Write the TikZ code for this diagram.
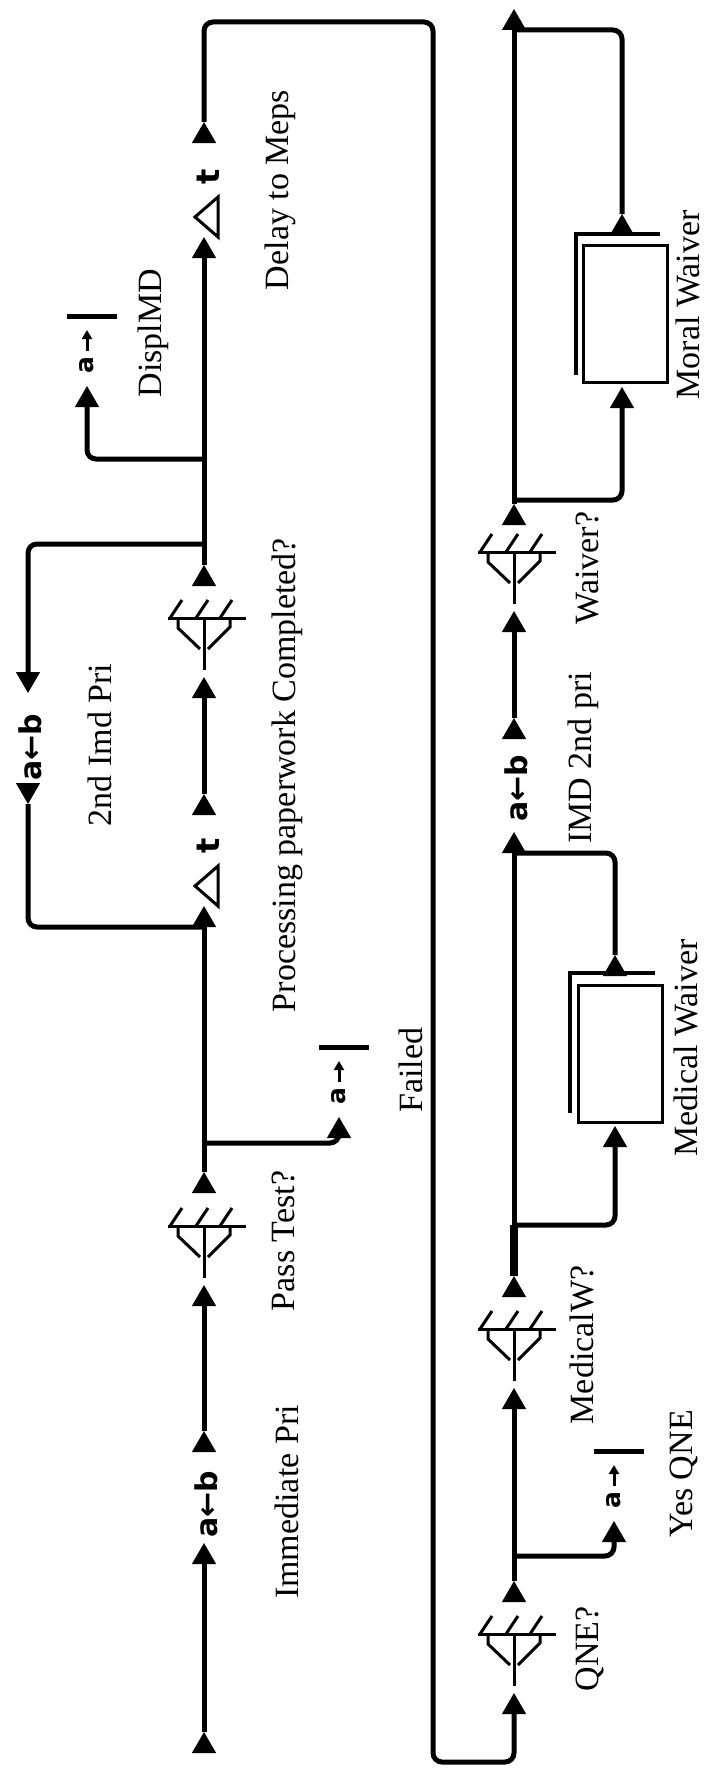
\documentclass[tikz,border=0pt]{standalone}
\usepackage{fontspec}
\setmainfont{Liberation Serif}
\newfontfamily\iconfont{DejaVu Sans}
\usetikzlibrary{shapes.geometric,arrows.meta}
\tikzset{
 flow/.style={line width=5pt, rounded corners=9pt},
 heavy/.style={line width=8pt},
 tri/.style={regular polygon, regular polygon sides=3, fill=black, inner sep=0pt, outer sep=0pt, minimum size=28pt},
 tridn/.style={tri, shape border rotate=180},
 lbl/.style={rotate=90, font=\fontsize{34}{40}\selectfont, inner sep=0pt},
 abicon/.style={rotate=90, font=\iconfont\bfseries\fontsize{30}{30}\selectfont, inner sep=0pt},
 sinka/.style={rotate=90, font=\iconfont\bfseries\fontsize{25}{25}\selectfont, inner sep=0pt},
 tletter/.style={rotate=90, font=\iconfont\bfseries\fontsize{32}{32}\selectfont, inner sep=0pt},
 icon/.style={line width=3pt},
 wbox/.style={draw, line width=3pt, minimum width=84pt, minimum height=137pt, inner sep=0pt},
 shadow/.style={line width=4pt},
 sinkbar/.style={line width=5pt},
 sinkarrow/.style={line width=3pt, -{Triangle[length=9pt,width=10pt]}},
 decision/.pic={
   \draw[icon] (-36,0) -- (42,0);
   \draw[icon] (-26,0) -- (-26,10) -- (-4,31);
   \draw[icon] (26,0) -- (26,9) -- (4,31);
   \draw[icon] (0,0) -- (0,52);
   \foreach \d in {-34,-8,16} \draw[icon] (\d,0) -- ++(12,-18);
 },
 deltat/.pic={
   \draw[icon, line join=miter] (12,-40) -- (-11,-20) -- (12,0) -- cycle;
   \node[tletter] (-t) at (2,-60) {t};
 },
 sink/.pic={
   \node[sinka] (-a) at (0,-21) {a};
   \draw[sinkarrow] (0,-35) -- (0,-56);
   \draw[sinkbar] (-20,-70) -- (30,-70);
 }
}
\begin{document}
\begin{tikzpicture}[x=1pt,y=-1pt]
\fill[white] (0,0) rectangle (708,1774);
\useasboundingbox (0,0) rectangle (708,1774);

% ---------- upper column ----------
\node[tri,anchor=corner 1] (src) at (204,1732) {};
\node[tri,anchor=corner 1] (abAin) at (204,1543) {};
\node[abicon] (abA) at (206,1504) {a←b};
\node[tri,anchor=corner 1] (abAout) at (204,1431) {};
\node[tri,anchor=corner 1] (passIn) at (204,1285) {};
\pic (pass) at (204,1226) {decision};
\node[tri,anchor=corner 1] (passOut) at (204,1172) {};
\node[tri,anchor=corner 1] (passSink) at (339,1117) {};
\pic (ps) at (339,1117) {sink};
\node[tri,anchor=corner 1] (dtIn) at (204,906) {};
\pic (dt) at (206,906) {deltat};
\node[tri,anchor=corner 1] (dtOut) at (204,794) {};
\node[tri,anchor=corner 1] (procIn) at (204,677) {};
\pic (proc) at (204,618) {decision};
\node[tri,anchor=corner 1] (procOut) at (204,565) {};
\node[tridn,anchor=side 2] (loopIn) at (28,672) {};
\node[abicon] (abL) at (30,747) {a←b};
\node[tridn,anchor=side 2] (loopOut) at (28,783) {};
\node[tri,anchor=corner 1] (dispSink) at (87,386) {};
\pic (ds) at (87,386) {sink};
\node[tri,anchor=corner 1] (delayIn) at (204,237) {};
\pic (dl) at (206,237) {deltat};
\node[tri,anchor=corner 1] (delayOut) at (204,122) {};

% ---------- lower column ----------
\node[tri,anchor=corner 1] (qneIn) at (514,1693) {};
\pic (qne) at (514,1634) {decision};
\node[tri,anchor=corner 1] (qneOut) at (514,1581) {};
\node[tri,anchor=corner 1] (qneSink) at (614,1521) {};
\pic (qs) at (614,1521) {sink};
\node[tri,anchor=corner 1] (medIn) at (514,1388) {};
\pic (med) at (514,1329) {decision};
\node[tri,anchor=corner 1] (medOut) at (514,1276) {};
\node[tri,anchor=corner 1] (mboxIn) at (615,1126) {};
\node[wbox] (mbox) at (620,1053.5) {};
\draw[shadow] (570,1113) -- (570,973) -- (655,973);
\node[tri,anchor=corner 1] (mboxOut) at (615,955) {};
\node[tri,anchor=corner 1] (imdIn) at (514,832) {};
\node[abicon] (abI) at (516,788) {a←b};
\node[tri,anchor=corner 1] (imdOut) at (514,718) {};
\node[tri,anchor=corner 1] (waivIn) at (514,611) {};
\pic (waiv) at (514,552) {decision};
\node[tri,anchor=corner 1] (waivOut) at (514,504) {};
\node[tri,anchor=corner 1] (moralIn) at (622,387) {};
\node[wbox] (rbox) at (625,314) {};
\draw[shadow] (576,375) -- (576,234) -- (660,234);
\node[tri,anchor=corner 1] (moralOut) at (622,214) {};
\node[tri,anchor=corner 1] (exit) at (514,9) {};

% ---------- connectors ----------
\coordinate (j1) at (204,1143);
\coordinate (j2) at (204,544);
\coordinate (j4) at (204,459);
\coordinate (ftop) at (433,22);
\coordinate (fbot) at (433,1762);
\coordinate (j5) at (514,1556);
\coordinate (j6) at (514,1225);
\coordinate (j7) at (514,500);

\draw[flow] (src.corner 1) -- (abAin.side 2);
\draw[flow] (abAout.corner 1) -- (passIn.side 2);
\draw[flow] (passOut.corner 1) -- (dtIn.side 2);
\draw[flow] (j1) -| (passSink.side 2);
\draw[flow] (dtOut.corner 1) -- (procIn.side 2);
\draw[flow] (procOut.corner 1) -- (delayIn.side 2);
\draw[flow] (j2) -| (loopIn.side 2);
\draw[flow] (loopOut.corner 1) |- (dtIn.side 2);
\draw[flow] (j4) -| (dispSink.side 2);
\draw[flow] (delayOut.corner 1) |- (ftop) -- (fbot) -| (qneIn.side 2);
\draw[flow] (qneOut.corner 1) -- (medIn.side 2);
\draw[flow] (j5) -| (qneSink.side 2);
\draw[flow] (medOut.corner 1) -- (imdIn.side 2);
\draw[heavy] (medOut.corner 1) -- (j6);
\draw[flow] (j6) -| (mboxIn.side 2);
\draw[flow] (mboxOut.corner 1) |- (imdIn.side 2);
\draw[flow] (imdOut.corner 1) -- (waivIn.side 2);
\draw[flow] (waivOut.corner 1) -- (exit.side 2);
\draw[flow] (j7) -| (moralIn.side 2);
\draw[flow] (moralOut.corner 1) |- (exit.side 2);

% ---------- labels ----------
\node[lbl] (tImm) at (287,1502) {Immediate Pri};
\node[lbl] (tPass) at (283,1241) {Pass Test?};
\node[lbl] (tProc) at (287,775) {Processing paperwork Completed?};
\node[lbl] (t2nd) at (100,745) {2nd Imd Pri};
\node[lbl] (tDisp) at (153,333) {DisplMD};
\node[lbl] (tDelay) at (280,190) {Delay to Meps};
\node[lbl] (tFail) at (411,1070) {Failed};
\node[lbl] (tQNE) at (590,1649) {QNE?};
\node[lbl] (tYes) at (684,1474) {Yes QNE};
\node[lbl] (tMedW) at (582,1345) {MedicalW?};
\node[lbl] (tMedWv) at (686,1048) {Medical Waiver};
\node[lbl] (tIMD) at (583,758) {IMD 2nd pri};
\node[lbl] (tWv) at (587,568) {Waiver?};
\node[lbl] (tMoral) at (688,305) {Moral Waiver};
\end{tikzpicture}
\end{document}
